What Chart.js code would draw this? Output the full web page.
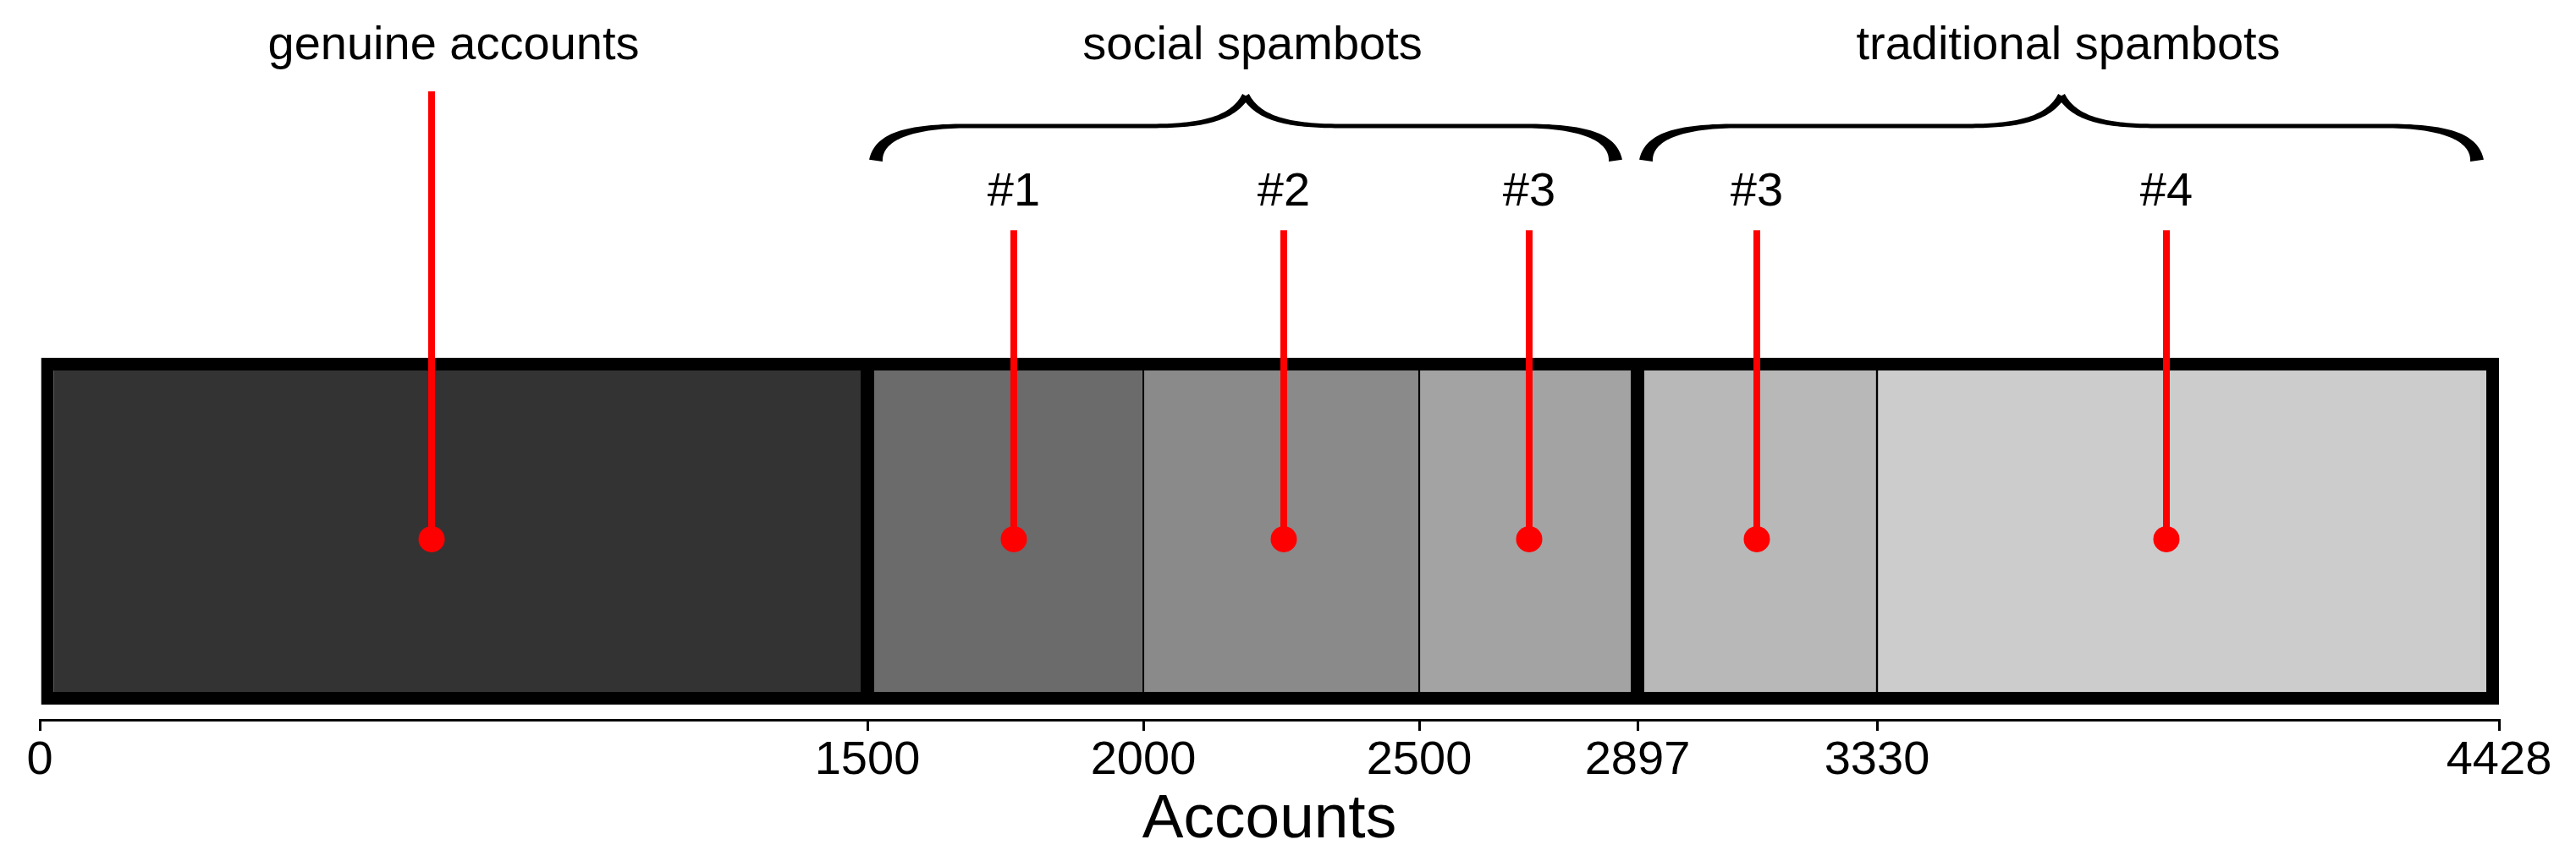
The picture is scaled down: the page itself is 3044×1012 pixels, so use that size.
<!DOCTYPE html>
<html>
<head>
<meta charset="utf-8">
<script src="https://cdn.jsdelivr.net/npm/chart.js@4.4.1/dist/chart.umd.min.js"></script>
<style>
  html, body { margin: 0; padding: 0; background: #fff; }
  #wrap { width: 3044px; height: 1012px; }
</style>
</head>
<body>
<div id="wrap"><canvas id="chart" width="3044" height="1012"></canvas></div>
<script>
// Segments of the accounts bar, left to right
const segmentValues = [1500, 500, 500, 397, 433, 1128];
const segmentGroups = [0, 1, 1, 1, 2, 2];
const groupNames = ['genuine accounts', 'social spambots', 'traditional spambots'];

// Red markers (position on the accounts axis) and their labels
const markerValues = [710, 1765, 2255, 2700, 3112, 3855];
const markerLabels = ['', '#1', '#2', '#3', '#3', '#4'];

// Tick labels as printed under the boundaries
const tickLabels = ['0', '1500', '2000', '2500', '2897', '3330', '4428'];

// Styles
const segmentColors = ['#333333', '#6b6b6b', '#8a8a8a', '#a3a3a3', '#b8b8b8', '#cccccc'];
const FONT = '"Liberation Sans", Arial, Helvetica, sans-serif';
const LABEL_SIZE = 56;
const OUTER_EDGE = 15, GROUP_EDGE = 8, INNER_EDGE = 1.5;

// Vertical levels, as a fraction of the plot height above the axis
const LEVEL = {
    bar: 0.262,
    dot: 0.251,
    stemTall: 0.873,
    stem: 0.680,
    markerText: 0.7145,
    braceEnd: 0.777,
    braceMid: 0.825,
    braceTip: 0.867,
    groupText: 0.918
};

// Boundaries between segments
const bounds = [0];
segmentValues.forEach(v => bounds.push(bounds[bounds.length - 1] + v));
const total = bounds[bounds.length - 1];

// Edge widths: thick around groups, thin inside
function edge(i, side) {
    const n = segmentValues.length;
    if (side === 'left') {
        if (i === 0) return OUTER_EDGE;
        return segmentGroups[i - 1] !== segmentGroups[i] ? GROUP_EDGE : INNER_EDGE;
    }
    if (i === n - 1) return OUTER_EDGE;
    return segmentGroups[i + 1] !== segmentGroups[i] ? GROUP_EDGE : INNER_EDGE;
}

const barDatasets = segmentValues.map((v, i) => ({
    type: 'bar',
    indexAxis: 'y',
    order: 1,
    data: [{ x: v, y: LEVEL.bar }],
    backgroundColor: segmentColors[i],
    borderColor: '#000',
    borderWidth: { left: edge(i, 'left'), right: edge(i, 'right'), top: OUTER_EDGE, bottom: OUTER_EDGE },
    borderSkipped: false,
    inflateAmount: 0,
    barThickness: 410
}));

const stemDatasets = markerValues.map((v, i) => ({
    type: 'line',
    order: 0,
    stack: 'stem' + i,
    data: [
        { x: v, y: LEVEL.dot },
        { x: v, y: markerLabels[i] ? LEVEL.stem : LEVEL.stemTall }
    ],
    borderColor: '#ff0000',
    borderWidth: 8,
    pointRadius: [15.5, 0],
    pointBackgroundColor: '#ff0000',
    pointBorderWidth: 0,
    clip: false
}));

// Curly brace as a filled shape with thick ends
function cubic(p0, p1, p2, p3, t) {
    const u = 1 - t;
    return u * u * u * p0 + 3 * u * u * t * p1 + 3 * u * t * t * p2 + t * t * t * p3;
}

function drawBrace(ctx, x0, x1, yEnd, yMid, yTip) {
    const xc = (x0 + x1) / 2;
    const half = [];
    const N = 40;
    // end curve
    for (let k = 0; k <= N; k++) {
        const t = k / N;
        half.push({
            x: cubic(x0, x0 + 3, x0 + 35, x0 + 110, t),
            y: cubic(yEnd, yMid + 14, yMid, yMid, t),
            w: 5 + 11 * Math.pow(1 - t, 1.6)
        });
    }
    // straight part
    half.push({ x: xc - 110, y: yMid, w: 5 });
    // rise to the tip
    for (let k = 1; k <= N; k++) {
        const t = k / N;
        half.push({
            x: cubic(xc - 110, xc - 50, xc - 15, xc, t),
            y: cubic(yMid, yMid, yMid - 9, yTip, t),
            w: 5 + 4 * t * t
        });
    }
    const sides = [half, half.map(p => ({ x: 2 * xc - p.x, y: p.y, w: p.w }))];
    sides.forEach(pts => {
        const a = [], b = [];
        pts.forEach((p, k) => {
            const prev = pts[Math.max(k - 1, 0)], next = pts[Math.min(k + 1, pts.length - 1)];
            let dx = next.x - prev.x, dy = next.y - prev.y;
            const len = Math.hypot(dx, dy) || 1;
            const nx = -dy / len, ny = dx / len;
            a.push([p.x + nx * p.w / 2, p.y + ny * p.w / 2]);
            b.push([p.x - nx * p.w / 2, p.y - ny * p.w / 2]);
        });
        ctx.beginPath();
        a.forEach(([px, py], k) => k ? ctx.lineTo(px, py) : ctx.moveTo(px, py));
        b.reverse().forEach(([px, py]) => ctx.lineTo(px, py));
        ctx.closePath();
        ctx.fill();
    });
}

const annotations = {
    id: 'annotations',
    afterDraw(chart) {
        const { ctx, scales: { x, y } } = chart;
        ctx.save();
        ctx.fillStyle = '#000';
        ctx.textAlign = 'center';
        ctx.textBaseline = 'alphabetic';
        ctx.font = LABEL_SIZE + 'px ' + FONT;

        groupNames.forEach((name, g) => {
            const idx = segmentGroups.map((s, i) => s === g ? i : -1).filter(i => i >= 0);
            const start = bounds[idx[0]];
            const end = bounds[idx[idx.length - 1] + 1];
            ctx.fillText(name, x.getPixelForValue((start + end) / 2), y.getPixelForValue(LEVEL.groupText));
            if (idx.length > 1) {
                drawBrace(ctx,
                    x.getPixelForValue(start) + 10,
                    x.getPixelForValue(end) - 26,
                    y.getPixelForValue(LEVEL.braceEnd),
                    y.getPixelForValue(LEVEL.braceMid),
                    y.getPixelForValue(LEVEL.braceTip));
            }
        });

        markerLabels.forEach((t, i) => {
            if (t) ctx.fillText(t, x.getPixelForValue(markerValues[i]), y.getPixelForValue(LEVEL.markerText));
        });
        ctx.restore();
    }
};

new Chart(document.getElementById('chart'), {
    type: 'bar',
    data: { datasets: [...stemDatasets, ...barDatasets] },
    options: {
        responsive: false,
        devicePixelRatio: 1,
        animation: false,
        layout: { autoPadding: false, padding: { left: 47, right: 91, top: 0, bottom: 0 } },
        plugins: { legend: { display: false }, tooltip: { enabled: false } },
        scales: {
            x: {
                type: 'linear',
                position: 'bottom',
                stacked: true,
                offset: false,
                alignToPixels: true,
                min: 0,
                max: total,
                afterBuildTicks: scale => { scale.ticks = bounds.map(v => ({ value: v })); },
                afterFit: scale => { scale.height = 161; },
                ticks: {
                    autoSkip: false,
                    maxRotation: 0,
                    padding: 2,
                    color: '#000',
                    font: { family: FONT, size: LABEL_SIZE },
                    callback: (value, index) => tickLabels[index]
                },
                grid: {
                    offset: false,
                    drawOnChartArea: false,
                    color: '#000',
                    lineWidth: 3,
                    tickLength: 13,
                    tickWidth: 3,
                    tickColor: '#000'
                },
                border: { display: true, color: '#000', width: 3 },
                title: {
                    display: true,
                    text: 'Accounts',
                    color: '#000',
                    font: { family: FONT, size: 73 },
                    padding: { top: 0, bottom: -2 }
                }
            },
            y: {
                type: 'linear',
                display: false,
                stacked: true,
                offset: false,
                grid: { offset: false },
                min: 0,
                max: 1
            }
        }
    },
    plugins: [annotations]
});
</script>
</body>
</html>
